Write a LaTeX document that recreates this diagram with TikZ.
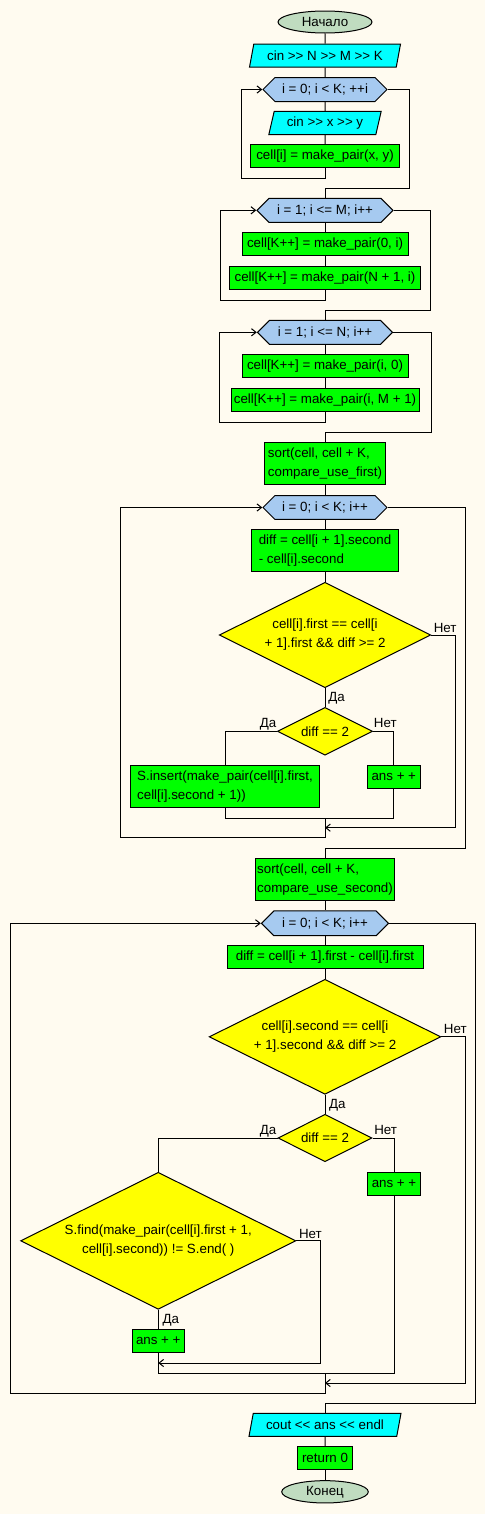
\documentclass[tikz,border=0pt]{standalone}
\usepackage{fontspec}
\newfontfamily\flowfont{Liberation Sans}
\usetikzlibrary{shapes.geometric,shapes.symbols,arrows.meta}
\definecolor{bgc}{HTML}{FFFBF0}
\definecolor{termc}{HTML}{C0DCC0}
\definecolor{ioc}{HTML}{00FFFF}
\definecolor{loopc}{HTML}{A6CAF0}
\definecolor{procc}{HTML}{00FF00}
\definecolor{condc}{HTML}{FFFF00}
\begin{document}
\begin{tikzpicture}[x=0.75pt,y=-0.75pt,
  txt/.style={font=\flowfont\fontsize{10pt}{14.25pt}\selectfont, text=black},
  base/.style={txt, draw=black, line width=0.75pt, inner sep=0pt},
  sz/.style 2 args={minimum width=#1*0.75pt, minimum height=#2*0.75pt},
  term/.style={base, ellipse, fill=termc},
  io/.style={base, trapezium, trapezium left angle=66.5, trapezium right angle=113.5, trapezium stretches body=true, fill=ioc},
  hexa/.style={base, signal, signal to=west and east, fill=loopc},
  proc/.style={base, rectangle, fill=procc, align=left},
  cond/.style={base, diamond, fill=condc, align=center},
  conn/.style={line width=0.75pt},
  arr/.style={conn, -{Straight Barb[length=3.4pt,width=5.4pt]}},
  lab/.style={txt, inner sep=0pt}
]
\useasboundingbox[fill=bgc] (0,0) rectangle (485,1514);

\node[term, sz={94}{22}] (start) at (325,22) {Начало};
\node[io, sz={151}{23}] (in1) at (325,55.7) {cin >{}> N >{}> M >{}> K};
\node[hexa, sz={124}{24}] (loop1) at (325,89.5) {i = 0; i < K; ++i};
\node[io, sz={112.4}{23.4}] (in2) at (325,123) {cin >{}> x >{}> y};
\node[proc, sz={148.3}{23}] (b1) at (325,155.8) {cell[i] = make\_pair(x, y)};

\node[hexa, sz={136}{24}] (loop2) at (325,210.3) {i = 1; i <= M; i++};
\node[proc, sz={166}{23.4}] (b2) at (325,244) {cell[K++] = make\_pair(0, i)};
\node[proc, sz={190.7}{23}] (b3) at (325,277.8) {cell[K++] = make\_pair(N + 1, i)};

\node[hexa, sz={135}{24}] (loop3) at (325,332.3) {i = 1; i <= N; i++};
\node[proc, sz={166}{23.4}] (b4) at (325,366) {cell[K++] = make\_pair(i, 0)};
\node[proc, sz={188}{23.3}] (b5) at (325,400.3) {cell[K++] = make\_pair(i, M + 1)};

\node[proc, sz={120.4}{41.6}] (sort1) at (325,463.5) {sort(cell, cell + K,\\compare\_use\_first)};
\node[hexa, sz={124}{23.6}] (loop4) at (325,507.5) {i = 0; i < K; i++};
\node[proc, sz={147.4}{42}] (diff1) at (325,550.3) {diff = cell[i + 1].second\\- cell[i].second};
\node[cond, aspect=2, sz={211.4}{105.4}] (dia1) at (325,635) {cell[i].first == cell[i\\+ 1].first \&\& diff >= 2};
\node[cond, aspect=2, sz={95}{47.7}] (dia2) at (325,731.3) {diff == 2};
\node[proc, sz={188.6}{42}] (ins) at (225,786.3) {S.insert(make\_pair(cell[i].first,\\cell[i].second + 1))};
\node[proc, sz={53}{23}] (ans1) at (393.8,776.8) {ans + +};

\node[proc, sz={138.4}{42.4}] (sort2) at (325,879.5) {sort(cell, cell + K,\\compare\_use\_second)};
\node[hexa, sz={127}{24.7}] (loop5) at (325,923.3) {i = 0; i < K; i++};
\node[proc, sz={196}{23}] (diff2) at (325,956.8) {diff = cell[i + 1].first - cell[i].first};
\node[cond, aspect=2, sz={231.7}{115}] (dia3) at (325,1036.8) {cell[i].second == cell[i\\+ 1].second \&\& diff >= 2};
\node[cond, aspect=2, sz={94}{47.4}] (dia4) at (325,1138) {diff == 2};
\node[cond, aspect=2, sz={275.3}{137}] (dia5) at (158.3,1240.8) {S.find(make\_pair(cell[i].first + 1,\\cell[i].second)) != S.end( )};
\node[proc, sz={53.4}{23}] (ans2) at (394,1183.8) {ans + +};
\node[proc, sz={52.6}{22.6}] (ans3) at (158.3,1341) {ans + +};

\node[io, sz={152}{23}] (out) at (325,1424.8) {cout <{}< ans <{}< endl};
\node[proc, sz={55}{22.6}] (ret) at (325,1458) {return 0};
\node[term, sz={86.6}{22.3}] (stop) at (325,1491.8) {Конец};

\coordinate (j1) at (325,818);
\coordinate (j2) at (325,827.7);
\coordinate (j3) at (158.3,1363);
\coordinate (j4) at (325,1373);
\coordinate (j5) at (325,1383);

% straight connectors
\draw[conn] (start.south) -- (in1.north);
\draw[conn] (in1.south) -- (loop1.north);
\draw[conn] (loop1.south) -- (in2.north);
\draw[conn] (in2.south) -- (b1.north);
\draw[conn] (loop2.south) -- (b2.north);
\draw[conn] (b2.south) -- (b3.north);
\draw[conn] (loop3.south) -- (b4.north);
\draw[conn] (b4.south) -- (b5.north);
\draw[conn] (sort1.south) -- (loop4.north);
\draw[conn] (loop4.south) -- (diff1.north);
\draw[conn] (diff1.south) -- (dia1.north);
\draw[conn] (dia1.south) -- (dia2.north);
\draw[conn] (sort2.south) -- (loop5.north);
\draw[conn] (loop5.south) -- (diff2.north);
\draw[conn] (diff2.south) -- (dia3.north);
\draw[conn] (dia3.south) -- (dia4.north);
\draw[conn] (dia5.south) -- (ans3.north);
\draw[conn] (out.south) -- (ret.north);
\draw[conn] (ret.south) -- (stop.north);

% loop 1
\draw[arr] (b1.south) -- (325,178.3) -| (241.3,89.5) -- (loop1.west);
\draw[conn] (loop1.east) -| (409.3,188.3) -| (loop2.north);
% loop 2
\draw[arr] (b3.south) -- (325,300) -| (220.7,210.3) -- (loop2.west);
\draw[conn] (loop2.east) -| (430.7,310) -| (loop3.north);
% loop 3
\draw[arr] (b5.south) -- (325,422) -| (219.3,332.3) -- (loop3.west);
\draw[conn] (loop3.east) -| (431.3,432.3) -| (sort1.north);
% loop 4
\draw[conn] (dia2.west) -| (ins.north);
\draw[conn] (dia2.east) -| (ans1.north);
\draw[conn] (ins.south) |- (j1) -| (ans1.south);
\draw[arr] (dia1.east) -| (455.3,827.7) -- (j2);
\draw[arr] (j1) -- (325,837.7) -| (120.7,507.5) -- (loop4.west);
\draw[conn] (loop4.east) -| (465.3,848.3) -| (sort2.north);
% loop 5
\draw[conn] (dia4.west) -| (dia5.north);
\draw[conn] (dia4.east) -| (ans2.north);
\draw[arr] (dia5.east) -| (320.7,1363) -- (j3);
\draw[conn] (ans3.south) |- (j4) -| (ans2.south);
\draw[arr] (dia3.east) -| (465.3,1383) -- (j5);
\draw[arr] (j4) -- (325,1393.3) -| (10.7,923.3) -- (loop5.west);
\draw[conn] (loop5.east) -| (475.7,1403.3) -| (out.north);

% labels
\node[lab, anchor=base west] (l1) at ([shift={(2.3,-2.5)}]dia1.east) {Нет};
\node[lab, anchor=base west] (l2) at ([shift={(3,13)}]dia1.south) {Да};
\node[lab, anchor=base east] (l3) at ([shift={(-0.5,-4)}]dia2.west) {Да};
\node[lab, anchor=base west] (l4) at ([shift={(0.7,-3.6)}]dia2.east) {Нет};
\node[lab, anchor=base west] (l5) at ([shift={(2.3,-3)}]dia3.east) {Нет};
\node[lab, anchor=base west] (l6) at ([shift={(3.8,13.7)}]dia3.south) {Да};
\node[lab, anchor=base east] (l7) at ([shift={(-1,-4)}]dia4.west) {Да};
\node[lab, anchor=base west] (l8) at ([shift={(1.6,-3.3)}]dia4.east) {Нет};
\node[lab, anchor=base west] (l9) at ([shift={(2.3,-2.7)}]dia5.east) {Нет};
\node[lab, anchor=base west] (l10) at ([shift={(4,13.7)}]dia5.south) {Да};
\end{tikzpicture}
\end{document}
